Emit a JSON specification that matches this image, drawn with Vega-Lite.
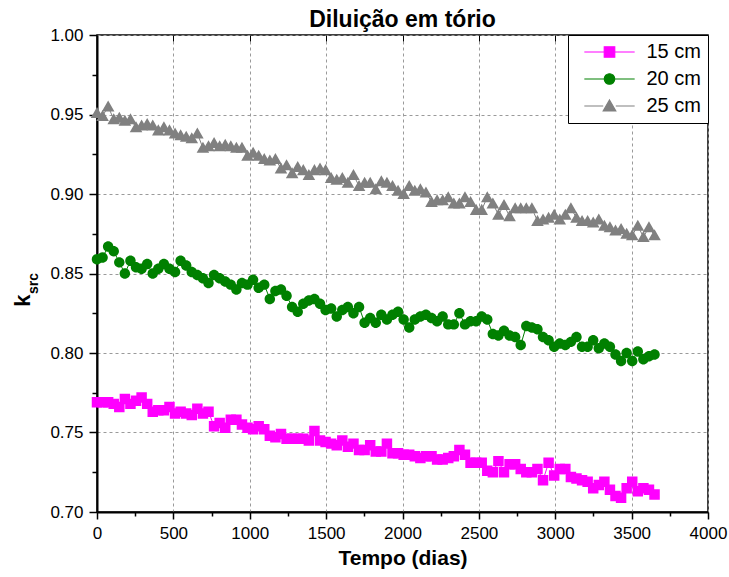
{
"$schema": "https://vega.github.io/schema/vega-lite/v6.json",
"width": 611, "height": 477,
"autosize": "none",
"padding": {"left": 97, "top": 35, "right": 21, "bottom": 65},
"background": "white",
"title": {"text": "Diluição em tório", "fontSize": 23, "fontWeight": "bold", "color": "black", "offset": -6, "anchor": "middle", "frame": "group"},
"data": {"values": [
{"t":0,"k":0.769,"s":"15 cm"},{"t":36.5,"k":0.769,"s":"15 cm"},{"t":73,"k":0.769,"s":"15 cm"},{"t":109.5,"k":0.768,"s":"15 cm"},{"t":146,"k":0.766,"s":"15 cm"},{"t":182.5,"k":0.771,"s":"15 cm"},{"t":219,"k":0.768,"s":"15 cm"},{"t":255.5,"k":0.770,"s":"15 cm"},{"t":292,"k":0.772,"s":"15 cm"},{"t":328.5,"k":0.768,"s":"15 cm"},
{"t":365,"k":0.763,"s":"15 cm"},{"t":401.5,"k":0.764,"s":"15 cm"},{"t":438,"k":0.764,"s":"15 cm"},{"t":474.5,"k":0.766,"s":"15 cm"},{"t":511,"k":0.762,"s":"15 cm"},{"t":547.5,"k":0.763,"s":"15 cm"},{"t":584,"k":0.762,"s":"15 cm"},{"t":620.5,"k":0.761,"s":"15 cm"},{"t":657,"k":0.765,"s":"15 cm"},{"t":693.5,"k":0.762,"s":"15 cm"},
{"t":730,"k":0.763,"s":"15 cm"},{"t":766.5,"k":0.754,"s":"15 cm"},{"t":803,"k":0.756,"s":"15 cm"},{"t":839.5,"k":0.753,"s":"15 cm"},{"t":876,"k":0.758,"s":"15 cm"},{"t":912.5,"k":0.758,"s":"15 cm"},{"t":949,"k":0.755,"s":"15 cm"},{"t":985.5,"k":0.753,"s":"15 cm"},{"t":1022,"k":0.752,"s":"15 cm"},{"t":1058.5,"k":0.754,"s":"15 cm"},
{"t":1095,"k":0.752,"s":"15 cm"},{"t":1131.5,"k":0.748,"s":"15 cm"},{"t":1168,"k":0.747,"s":"15 cm"},{"t":1204.5,"k":0.749,"s":"15 cm"},{"t":1241,"k":0.746,"s":"15 cm"},{"t":1277.5,"k":0.746,"s":"15 cm"},{"t":1314,"k":0.746,"s":"15 cm"},{"t":1350.5,"k":0.746,"s":"15 cm"},{"t":1387,"k":0.745,"s":"15 cm"},{"t":1423.5,"k":0.751,"s":"15 cm"},
{"t":1460,"k":0.745,"s":"15 cm"},{"t":1496.5,"k":0.744,"s":"15 cm"},{"t":1533,"k":0.743,"s":"15 cm"},{"t":1569.5,"k":0.742,"s":"15 cm"},{"t":1606,"k":0.745,"s":"15 cm"},{"t":1642.5,"k":0.741,"s":"15 cm"},{"t":1679,"k":0.743,"s":"15 cm"},{"t":1715.5,"k":0.739,"s":"15 cm"},{"t":1752,"k":0.739,"s":"15 cm"},{"t":1788.5,"k":0.742,"s":"15 cm"},
{"t":1825,"k":0.738,"s":"15 cm"},{"t":1861.5,"k":0.738,"s":"15 cm"},{"t":1898,"k":0.743,"s":"15 cm"},{"t":1934.5,"k":0.737,"s":"15 cm"},{"t":1971,"k":0.737,"s":"15 cm"},{"t":2007.5,"k":0.736,"s":"15 cm"},{"t":2044,"k":0.736,"s":"15 cm"},{"t":2080.5,"k":0.735,"s":"15 cm"},{"t":2117,"k":0.734,"s":"15 cm"},{"t":2153.5,"k":0.735,"s":"15 cm"},
{"t":2190,"k":0.735,"s":"15 cm"},{"t":2226.5,"k":0.733,"s":"15 cm"},{"t":2263,"k":0.733,"s":"15 cm"},{"t":2299.5,"k":0.734,"s":"15 cm"},{"t":2336,"k":0.735,"s":"15 cm"},{"t":2372.5,"k":0.739,"s":"15 cm"},{"t":2409,"k":0.736,"s":"15 cm"},{"t":2445.5,"k":0.731,"s":"15 cm"},{"t":2482,"k":0.731,"s":"15 cm"},{"t":2518.5,"k":0.731,"s":"15 cm"},
{"t":2555,"k":0.726,"s":"15 cm"},{"t":2591.5,"k":0.725,"s":"15 cm"},{"t":2628,"k":0.732,"s":"15 cm"},{"t":2664.5,"k":0.725,"s":"15 cm"},{"t":2701,"k":0.730,"s":"15 cm"},{"t":2737.5,"k":0.730,"s":"15 cm"},{"t":2774,"k":0.727,"s":"15 cm"},{"t":2810.5,"k":0.725,"s":"15 cm"},{"t":2847,"k":0.725,"s":"15 cm"},{"t":2883.5,"k":0.727,"s":"15 cm"},
{"t":2920,"k":0.720,"s":"15 cm"},{"t":2956.5,"k":0.731,"s":"15 cm"},{"t":2993,"k":0.723,"s":"15 cm"},{"t":3029.5,"k":0.727,"s":"15 cm"},{"t":3066,"k":0.727,"s":"15 cm"},{"t":3102.5,"k":0.722,"s":"15 cm"},{"t":3139,"k":0.721,"s":"15 cm"},{"t":3175.5,"k":0.720,"s":"15 cm"},{"t":3212,"k":0.719,"s":"15 cm"},{"t":3248.5,"k":0.715,"s":"15 cm"},
{"t":3285,"k":0.717,"s":"15 cm"},{"t":3321.5,"k":0.719,"s":"15 cm"},{"t":3358,"k":0.714,"s":"15 cm"},{"t":3394.5,"k":0.710,"s":"15 cm"},{"t":3431,"k":0.709,"s":"15 cm"},{"t":3467.5,"k":0.715,"s":"15 cm"},{"t":3504,"k":0.719,"s":"15 cm"},{"t":3540.5,"k":0.713,"s":"15 cm"},{"t":3577,"k":0.715,"s":"15 cm"},{"t":3613.5,"k":0.714,"s":"15 cm"},
{"t":3650,"k":0.711,"s":"15 cm"},
{"t":0,"k":0.859,"s":"20 cm"},{"t":36.5,"k":0.860,"s":"20 cm"},{"t":73,"k":0.867,"s":"20 cm"},{"t":109.5,"k":0.864,"s":"20 cm"},{"t":146,"k":0.857,"s":"20 cm"},{"t":182.5,"k":0.850,"s":"20 cm"},{"t":219,"k":0.858,"s":"20 cm"},{"t":255.5,"k":0.854,"s":"20 cm"},{"t":292,"k":0.853,"s":"20 cm"},{"t":328.5,"k":0.856,"s":"20 cm"},
{"t":365,"k":0.850,"s":"20 cm"},{"t":401.5,"k":0.853,"s":"20 cm"},{"t":438,"k":0.856,"s":"20 cm"},{"t":474.5,"k":0.853,"s":"20 cm"},{"t":511,"k":0.851,"s":"20 cm"},{"t":547.5,"k":0.858,"s":"20 cm"},{"t":584,"k":0.855,"s":"20 cm"},{"t":620.5,"k":0.851,"s":"20 cm"},{"t":657,"k":0.849,"s":"20 cm"},{"t":693.5,"k":0.847,"s":"20 cm"},
{"t":730,"k":0.844,"s":"20 cm"},{"t":766.5,"k":0.849,"s":"20 cm"},{"t":803,"k":0.847,"s":"20 cm"},{"t":839.5,"k":0.845,"s":"20 cm"},{"t":876,"k":0.843,"s":"20 cm"},{"t":912.5,"k":0.840,"s":"20 cm"},{"t":949,"k":0.844,"s":"20 cm"},{"t":985.5,"k":0.843,"s":"20 cm"},{"t":1022,"k":0.846,"s":"20 cm"},{"t":1058.5,"k":0.841,"s":"20 cm"},
{"t":1095,"k":0.843,"s":"20 cm"},{"t":1131.5,"k":0.834,"s":"20 cm"},{"t":1168,"k":0.839,"s":"20 cm"},{"t":1204.5,"k":0.840,"s":"20 cm"},{"t":1241,"k":0.836,"s":"20 cm"},{"t":1277.5,"k":0.829,"s":"20 cm"},{"t":1314,"k":0.826,"s":"20 cm"},{"t":1350.5,"k":0.831,"s":"20 cm"},{"t":1387,"k":0.833,"s":"20 cm"},{"t":1423.5,"k":0.834,"s":"20 cm"},
{"t":1460,"k":0.831,"s":"20 cm"},{"t":1496.5,"k":0.827,"s":"20 cm"},{"t":1533,"k":0.828,"s":"20 cm"},{"t":1569.5,"k":0.823,"s":"20 cm"},{"t":1606,"k":0.827,"s":"20 cm"},{"t":1642.5,"k":0.829,"s":"20 cm"},{"t":1679,"k":0.825,"s":"20 cm"},{"t":1715.5,"k":0.829,"s":"20 cm"},{"t":1752,"k":0.819,"s":"20 cm"},{"t":1788.5,"k":0.822,"s":"20 cm"},
{"t":1825,"k":0.819,"s":"20 cm"},{"t":1861.5,"k":0.824,"s":"20 cm"},{"t":1898,"k":0.821,"s":"20 cm"},{"t":1934.5,"k":0.824,"s":"20 cm"},{"t":1971,"k":0.826,"s":"20 cm"},{"t":2007.5,"k":0.821,"s":"20 cm"},{"t":2044,"k":0.816,"s":"20 cm"},{"t":2080.5,"k":0.821,"s":"20 cm"},{"t":2117,"k":0.823,"s":"20 cm"},{"t":2153.5,"k":0.824,"s":"20 cm"},
{"t":2190,"k":0.822,"s":"20 cm"},{"t":2226.5,"k":0.820,"s":"20 cm"},{"t":2263,"k":0.823,"s":"20 cm"},{"t":2299.5,"k":0.818,"s":"20 cm"},{"t":2336,"k":0.818,"s":"20 cm"},{"t":2372.5,"k":0.825,"s":"20 cm"},{"t":2409,"k":0.818,"s":"20 cm"},{"t":2445.5,"k":0.820,"s":"20 cm"},{"t":2482,"k":0.820,"s":"20 cm"},{"t":2518.5,"k":0.823,"s":"20 cm"},
{"t":2555,"k":0.821,"s":"20 cm"},{"t":2591.5,"k":0.812,"s":"20 cm"},{"t":2628,"k":0.811,"s":"20 cm"},{"t":2664.5,"k":0.814,"s":"20 cm"},{"t":2701,"k":0.811,"s":"20 cm"},{"t":2737.5,"k":0.810,"s":"20 cm"},{"t":2774,"k":0.805,"s":"20 cm"},{"t":2810.5,"k":0.817,"s":"20 cm"},{"t":2847,"k":0.816,"s":"20 cm"},{"t":2883.5,"k":0.815,"s":"20 cm"},
{"t":2920,"k":0.810,"s":"20 cm"},{"t":2956.5,"k":0.808,"s":"20 cm"},{"t":2993,"k":0.804,"s":"20 cm"},{"t":3029.5,"k":0.806,"s":"20 cm"},{"t":3066,"k":0.805,"s":"20 cm"},{"t":3102.5,"k":0.807,"s":"20 cm"},{"t":3139,"k":0.810,"s":"20 cm"},{"t":3175.5,"k":0.804,"s":"20 cm"},{"t":3212,"k":0.804,"s":"20 cm"},{"t":3248.5,"k":0.808,"s":"20 cm"},
{"t":3285,"k":0.803,"s":"20 cm"},{"t":3321.5,"k":0.806,"s":"20 cm"},{"t":3358,"k":0.804,"s":"20 cm"},{"t":3394.5,"k":0.799,"s":"20 cm"},{"t":3431,"k":0.795,"s":"20 cm"},{"t":3467.5,"k":0.800,"s":"20 cm"},{"t":3504,"k":0.795,"s":"20 cm"},{"t":3540.5,"k":0.801,"s":"20 cm"},{"t":3577,"k":0.796,"s":"20 cm"},{"t":3613.5,"k":0.798,"s":"20 cm"},
{"t":3650,"k":0.799,"s":"20 cm"},
{"t":0,"k":0.951,"s":"25 cm"},{"t":36.5,"k":0.949,"s":"25 cm"},{"t":73,"k":0.955,"s":"25 cm"},{"t":109.5,"k":0.947,"s":"25 cm"},{"t":146,"k":0.948,"s":"25 cm"},{"t":182.5,"k":0.946,"s":"25 cm"},{"t":219,"k":0.947,"s":"25 cm"},{"t":255.5,"k":0.942,"s":"25 cm"},{"t":292,"k":0.943,"s":"25 cm"},{"t":328.5,"k":0.944,"s":"25 cm"},
{"t":365,"k":0.943,"s":"25 cm"},{"t":401.5,"k":0.940,"s":"25 cm"},{"t":438,"k":0.942,"s":"25 cm"},{"t":474.5,"k":0.940,"s":"25 cm"},{"t":511,"k":0.938,"s":"25 cm"},{"t":547.5,"k":0.937,"s":"25 cm"},{"t":584,"k":0.936,"s":"25 cm"},{"t":620.5,"k":0.935,"s":"25 cm"},{"t":657,"k":0.938,"s":"25 cm"},{"t":693.5,"k":0.929,"s":"25 cm"},
{"t":730,"k":0.930,"s":"25 cm"},{"t":766.5,"k":0.932,"s":"25 cm"},{"t":803,"k":0.930,"s":"25 cm"},{"t":839.5,"k":0.931,"s":"25 cm"},{"t":876,"k":0.930,"s":"25 cm"},{"t":912.5,"k":0.929,"s":"25 cm"},{"t":949,"k":0.929,"s":"25 cm"},{"t":985.5,"k":0.924,"s":"25 cm"},{"t":1022,"k":0.926,"s":"25 cm"},{"t":1058.5,"k":0.924,"s":"25 cm"},
{"t":1095,"k":0.922,"s":"25 cm"},{"t":1131.5,"k":0.921,"s":"25 cm"},{"t":1168,"k":0.922,"s":"25 cm"},{"t":1204.5,"k":0.916,"s":"25 cm"},{"t":1241,"k":0.918,"s":"25 cm"},{"t":1277.5,"k":0.913,"s":"25 cm"},{"t":1314,"k":0.917,"s":"25 cm"},{"t":1350.5,"k":0.915,"s":"25 cm"},{"t":1387,"k":0.912,"s":"25 cm"},{"t":1423.5,"k":0.915,"s":"25 cm"},
{"t":1460,"k":0.916,"s":"25 cm"},{"t":1496.5,"k":0.915,"s":"25 cm"},{"t":1533,"k":0.910,"s":"25 cm"},{"t":1569.5,"k":0.909,"s":"25 cm"},{"t":1606,"k":0.910,"s":"25 cm"},{"t":1642.5,"k":0.907,"s":"25 cm"},{"t":1679,"k":0.912,"s":"25 cm"},{"t":1715.5,"k":0.905,"s":"25 cm"},{"t":1752,"k":0.907,"s":"25 cm"},{"t":1788.5,"k":0.907,"s":"25 cm"},
{"t":1825,"k":0.903,"s":"25 cm"},{"t":1861.5,"k":0.908,"s":"25 cm"},{"t":1898,"k":0.907,"s":"25 cm"},{"t":1934.5,"k":0.905,"s":"25 cm"},{"t":1971,"k":0.902,"s":"25 cm"},{"t":2007.5,"k":0.900,"s":"25 cm"},{"t":2044,"k":0.905,"s":"25 cm"},{"t":2080.5,"k":0.902,"s":"25 cm"},{"t":2117,"k":0.903,"s":"25 cm"},{"t":2153.5,"k":0.901,"s":"25 cm"},
{"t":2190,"k":0.895,"s":"25 cm"},{"t":2226.5,"k":0.896,"s":"25 cm"},{"t":2263,"k":0.896,"s":"25 cm"},{"t":2299.5,"k":0.898,"s":"25 cm"},{"t":2336,"k":0.894,"s":"25 cm"},{"t":2372.5,"k":0.894,"s":"25 cm"},{"t":2409,"k":0.898,"s":"25 cm"},{"t":2445.5,"k":0.895,"s":"25 cm"},{"t":2482,"k":0.890,"s":"25 cm"},{"t":2518.5,"k":0.890,"s":"25 cm"},
{"t":2555,"k":0.898,"s":"25 cm"},{"t":2591.5,"k":0.894,"s":"25 cm"},{"t":2628,"k":0.887,"s":"25 cm"},{"t":2664.5,"k":0.893,"s":"25 cm"},{"t":2701,"k":0.886,"s":"25 cm"},{"t":2737.5,"k":0.891,"s":"25 cm"},{"t":2774,"k":0.891,"s":"25 cm"},{"t":2810.5,"k":0.891,"s":"25 cm"},{"t":2847,"k":0.891,"s":"25 cm"},{"t":2883.5,"k":0.883,"s":"25 cm"},
{"t":2920,"k":0.884,"s":"25 cm"},{"t":2956.5,"k":0.885,"s":"25 cm"},{"t":2993,"k":0.887,"s":"25 cm"},{"t":3029.5,"k":0.884,"s":"25 cm"},{"t":3066,"k":0.887,"s":"25 cm"},{"t":3102.5,"k":0.891,"s":"25 cm"},{"t":3139,"k":0.885,"s":"25 cm"},{"t":3175.5,"k":0.883,"s":"25 cm"},{"t":3212,"k":0.883,"s":"25 cm"},{"t":3248.5,"k":0.882,"s":"25 cm"},
{"t":3285,"k":0.884,"s":"25 cm"},{"t":3321.5,"k":0.880,"s":"25 cm"},{"t":3358,"k":0.879,"s":"25 cm"},{"t":3394.5,"k":0.877,"s":"25 cm"},{"t":3431,"k":0.878,"s":"25 cm"},{"t":3467.5,"k":0.875,"s":"25 cm"},{"t":3504,"k":0.874,"s":"25 cm"},{"t":3540.5,"k":0.880,"s":"25 cm"},{"t":3577,"k":0.873,"s":"25 cm"},{"t":3613.5,"k":0.879,"s":"25 cm"},
{"t":3650,"k":0.874,"s":"25 cm"}
]},
"layer": [
{"mark": {"type": "line", "strokeWidth": 1},
 "encoding": {
  "x": {"field": "t", "type": "quantitative", "scale": {"domain": [0, 4000], "nice": false, "zero": false},
   "axis": {"values": [0,250,500,750,1000,1250,1500,1750,2000,2250,2500,2750,3000,3250,3500,3750,4000], "format": "d",
    "labelExpr": "datum.value % 500 === 0 ? datum.label : ''",
    "tickSize": {"condition": {"test": "datum.value % 500 === 0", "value": 7}, "value": 4},
    "grid": true,
    "gridOpacity": {"condition": {"test": "datum.value % 500 === 0", "value": 1}, "value": 0},
    "gridColor": "#9a9a9a", "gridDash": [3, 3], "gridWidth": 1,
    "domainColor": "black", "domainWidth": 2, "tickColor": "black", "tickWidth": 1.5,
    "labelFontSize": 17, "labelColor": "black", "labelPadding": 6, "labelFlush": false, "labelOverlap": false,
    "title": "Tempo (dias)", "titleFontSize": 21, "titleFontWeight": "bold", "titleColor": "black", "titlePadding": 6}},
  "y": {"field": "k", "type": "quantitative", "scale": {"domain": [0.7, 1.0], "nice": false, "zero": false},
   "axis": {"values": [0.7,0.725,0.75,0.775,0.8,0.825,0.85,0.875,0.9,0.925,0.95,0.975,1.0], "format": ".2f",
    "labelExpr": "abs(datum.value*20 - round(datum.value*20)) < 0.001 ? datum.label : ''",
    "tickSize": {"condition": {"test": "abs(datum.value*20 - round(datum.value*20)) < 0.001", "value": 8}, "value": 5},
    "grid": true,
    "gridOpacity": {"condition": {"test": "abs(datum.value*20 - round(datum.value*20)) < 0.001", "value": 1}, "value": 0},
    "gridColor": "#9a9a9a", "gridDash": [3, 3], "gridWidth": 1,
    "domainColor": "black", "domainWidth": 2, "tickColor": "black", "tickWidth": 1.5,
    "labelFontSize": 17, "labelColor": "black", "labelPadding": 6, "labelFlush": false, "labelOverlap": false,
    "title": "k", "titleFontSize": 22, "titleFontWeight": "bold", "titleColor": "black", "titlePadding": 15, "titleY": 265}},
  "color": {"field": "s", "type": "nominal", "scale": {"domain": ["15 cm", "20 cm", "25 cm"], "range": ["#FF00FF", "#008000", "#808080"]},
   "legend": {"title": null, "orient": "top-right", "offset": 0, "padding": 7, "strokeColor": "black", "fillColor": "white",
    "labelFontSize": 20, "labelColor": "black", "symbolSize": 110, "symbolStrokeWidth": 1.2, "symbolOffset": 24.5, "labelOffset": 27, "rowPadding": 7, "symbolOpacity": 1}}
 }},
{"mark": {"type": "point", "filled": true, "opacity": 1, "size": 110},
 "encoding": {
  "x": {"field": "t", "type": "quantitative", "axis": null},
  "y": {"field": "k", "type": "quantitative", "axis": null},
  "color": {"field": "s", "type": "nominal"},
  "shape": {"field": "s", "type": "nominal", "scale": {"domain": ["15 cm", "20 cm", "25 cm"], "range": ["M-4.8,0H-1M1,0H4.8M-1,-1H1V1H-1Z", "M-4.8,0H-1M1,0H4.8M-1,0A1,1 0 1,1 1,0A1,1 0 1,1 -1,0Z", "M-4.8,0H-1.2M1.2,0H4.8M0,-1.15L1.2,0.95L-1.2,0.95Z"]}, "legend": null}
 }},
{"mark": {"type": "point", "opacity": 0},
 "encoding": {
  "x": {"field": "t", "type": "quantitative",
   "axis": {"orient": "top", "values": [500,1000,1500,2000,2500,3000,3500], "labels": false, "tickSize": -6, "tickColor": "black", "tickWidth": 1, "domain": false, "grid": false, "title": null}},
  "y": {"field": "k", "type": "quantitative",
   "axis": {"orient": "left", "title": "src", "titleFontSize": 14, "titleFontWeight": "bold", "titleColor": "black", "titlePadding": 57, "titleY": 248, "labels": false, "ticks": false, "domain": false, "grid": false}}
 }}
],
"resolve": {"axis": {"x": "independent", "y": "independent"}},
"config": {
 "font": "Liberation Sans",
 "view": {"stroke": "black", "strokeWidth": 1.5}
}
}
